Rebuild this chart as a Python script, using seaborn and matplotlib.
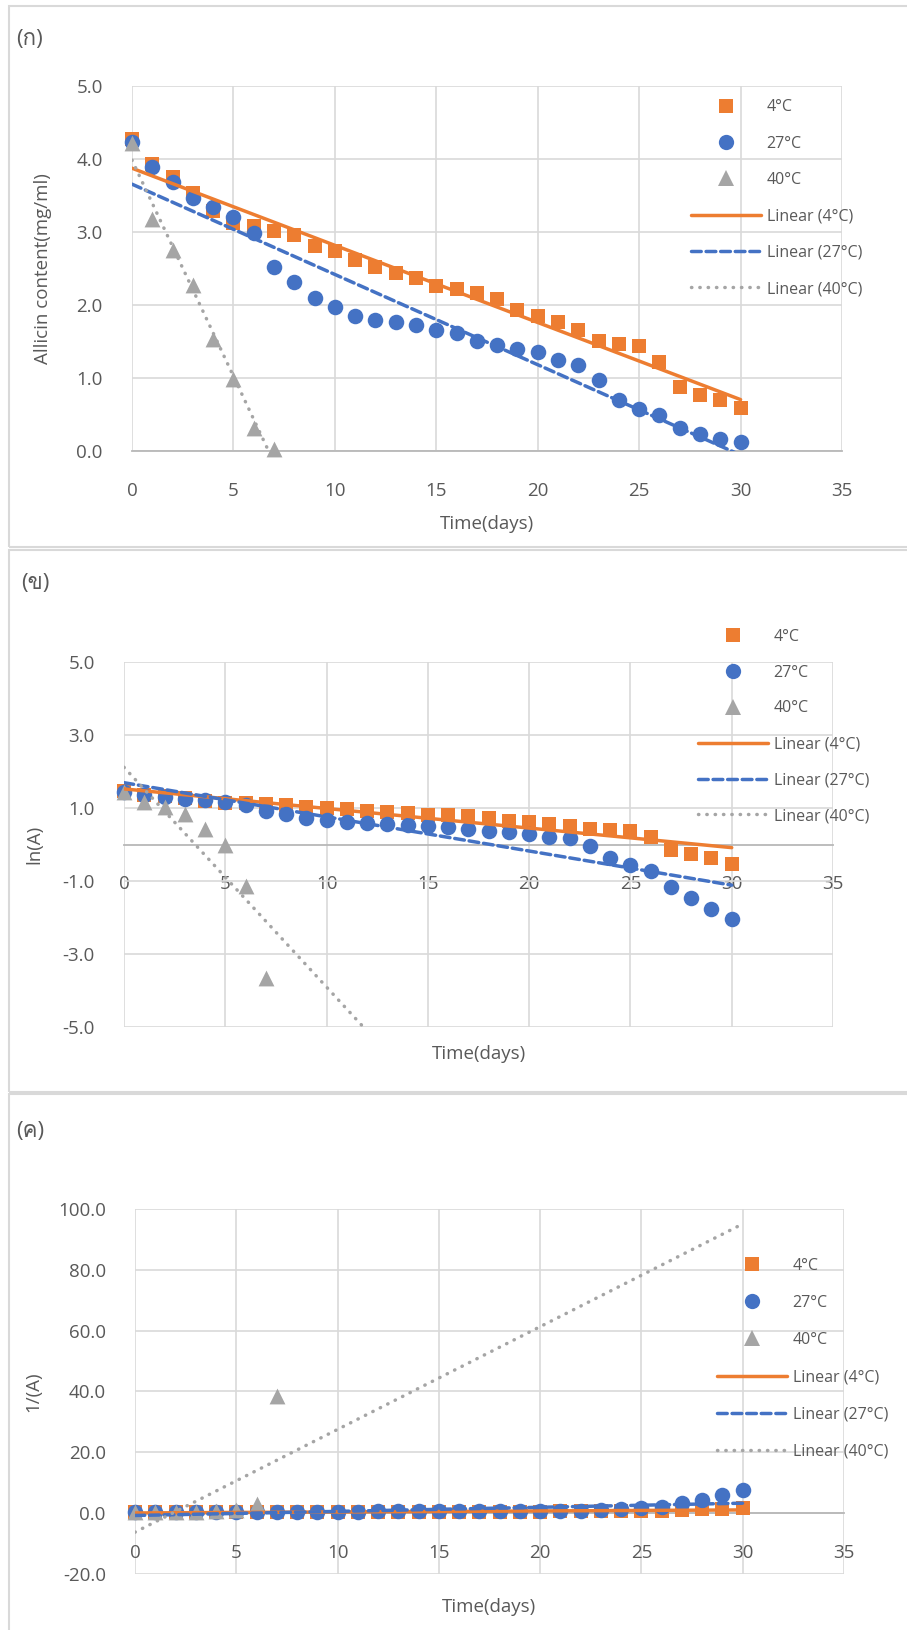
import numpy as np
import pandas as pd
import seaborn as sns
import matplotlib.pyplot as plt
from matplotlib.lines import Line2D
from matplotlib.patches import Rectangle
from matplotlib import font_manager
from matplotlib.ft2font import FT2Font

# data: allicin content (mg/ml) per day
days = list(range(31))
a_4c = [4.28, 3.93, 3.75, 3.54, 3.29, 3.13, 3.08, 3.01, 2.96, 2.81, 2.74,
        2.61, 2.52, 2.44, 2.37, 2.26, 2.22, 2.16, 2.08, 1.93, 1.85,
        1.77, 1.66, 1.51, 1.47, 1.44, 1.22, 0.87, 0.77, 0.70, 0.59]
a_27c = [4.23, 3.89, 3.68, 3.47, 3.34, 3.21, 2.99, 2.52, 2.31, 2.09, 1.97,
         1.85, 1.80, 1.77, 1.72, 1.66, 1.61, 1.51, 1.45, 1.40, 1.35,
         1.24, 1.18, 0.97, 0.70, 0.57, 0.49, 0.31, 0.23, 0.17, 0.13]
days_40c = list(range(8))
a_40c = [4.22, 3.18, 2.76, 2.28, 1.53, 0.99, 0.32, 0.026]

series_labels = ['4°C', '27°C', '40°C']
colors = ['#ED7D31', '#4472C4', '#A5A5A5']
markers = ['s', 'o', '^']

panel_tags = ['(ก)', '(ข)', '(ค)']
ylabels = ['Allicin content(mg/ml)', 'ln(A)', '1/(A)']
yticks_list = [np.arange(0, 5.01, 1), np.arange(-5, 5.01, 2), np.arange(-20, 100.1, 20)]
xticks = np.arange(0, 36, 5)

# find a font that has thai glyphs
thai_font = None
for f in font_manager.fontManager.ttflist:
    try:
        if 0x0E01 in FT2Font(f.fname).get_charmap():
            thai_font = f.name
            break
    except Exception:
        pass

sns.set_style('white')
fams = ['Open Sans', 'DejaVu Sans']
if thai_font:
    fams = ['Open Sans', thai_font, 'DejaVu Sans']
plt.rcParams['font.family'] = fams
txt = '#595959'

W, H = 907, 1630
fig = plt.figure(figsize=(W / 100, H / 100), dpi=100)

# axes boxes in pixels: left, right, top, bottom
boxes = [(132, 842, 86, 451), (124, 833, 662, 1027), (135, 844, 1209, 1574)]
# panel borders: top, bottom
frames = [(6, 547), (550, 1092), (1094, 1640)]
tag_pos = [(16, 40), (21, 583), (16, 1131)]
ylab_x = [43, 34, 33]
xlab_y = [524, 1054, 1607]
# legend: handle left x, first row centre y, row pitch
leg_pos = [(691, 107.5, 36.8), (698, 637, 36.3), (717, 1266, 37.6)]

for i in range(3):
    top, bot = frames[i]
    fig.patches.append(Rectangle((9 / W, 1 - bot / H), (W + 10) / W, (bot - top) / H,
                                 transform=fig.transFigure, fill=False,
                                 edgecolor='#d9d9d9', lw=1.5))
    fig.text(tag_pos[i][0] / W, 1 - tag_pos[i][1] / H, panel_tags[i],
             fontsize=16, color=txt, va='center', ha='left')

    l, r, t, b = boxes[i]
    ax = fig.add_axes([l / W, 1 - b / H, (r - l) / W, (b - t) / H])

    if i == 0:
        ys = [np.array(a_4c), np.array(a_27c), np.array(a_40c)]
    elif i == 1:
        ys = [np.log(a_4c), np.log(a_27c), np.log(a_40c)]
    else:
        ys = [1 / np.array(a_4c), 1 / np.array(a_27c), 1 / np.array(a_40c)]
    xs = [days, days, days_40c]

    handles = []
    for k in range(3):
        sns.scatterplot(x=xs[k], y=ys[k], ax=ax, marker=markers[k], color=colors[k],
                        s=[110, 125, 130][k], linewidth=0, clip_on=False, zorder=3)
        handles.append(Line2D([], [], ls='none', marker=markers[k], color=colors[k],
                              markersize=[10.3, 11, 11.2][k], markeredgewidth=0))
    styles = ['-', (0, (2.8, 1.4)), (0, (0.1, 2.3))]
    for k in range(3):
        m, c = np.polyfit(xs[k], ys[k], 1)
        xf = np.array([days[0], days[-1]])
        sns.lineplot(x=xf, y=m * xf + c, ax=ax, color=colors[k], lw=2.5,
                     linestyle=styles[k], dash_capstyle='round', zorder=4)
        handles.append(Line2D([], [], color=colors[k], lw=2.5, linestyle=styles[k],
                              dash_capstyle='round'))

    yt = yticks_list[i]
    ax.set_xlim(0, 35)
    ax.set_ylim(yt[0], yt[-1])
    ax.set_xticks(xticks)
    ax.set_yticks(yt)
    ax.set_yticklabels([f'{v:.1f}' for v in yt])
    ax.grid(True, color='#d9d9d9', lw=1.2)
    ax.set_axisbelow(True)
    for s in ['top', 'right', 'left']:
        ax.spines[s].set_visible(False)
    ax.spines['bottom'].set_position(('data', 0))
    ax.spines['bottom'].set_color('#b8b8b8')
    ax.spines['bottom'].set_linewidth(1.3)
    ax.tick_params(axis='both', length=0, labelsize=13.5, labelcolor=txt)
    ax.tick_params(axis='y', pad=21)
    ax.tick_params(axis='x', pad=22)

    ax.set_ylabel(ylabels[i], fontsize=13.5, color=txt)
    ax.yaxis.set_label_coords((ylab_x[i] - l) / (r - l), 0.5)
    ax.set_xlabel('Time(days)', fontsize=13.5, color=txt)
    ax.xaxis.set_label_coords(0.5, (b - xlab_y[i]) / (b - t))
    ax.xaxis.label.set_va('center')
    ax.yaxis.label.set_va('center')

    fs = 11.5
    fs_px = fs * 100 / 72
    lx, ly, pitch = leg_pos[i]
    rowh = fs_px * 1.03
    ax.legend(handles, series_labels + [f'Linear ({s})' for s in series_labels],
              loc='upper left', bbox_to_anchor=(lx / W, 1 - (ly - rowh / 2) / H),
              bbox_transform=fig.transFigure, frameon=False, borderpad=0,
              borderaxespad=0, fontsize=fs, labelcolor=txt,
              handlelength=70 / fs_px, handletextpad=0.35,
              labelspacing=(pitch - rowh) / fs_px)

fig.savefig('out.png', dpi=100)
